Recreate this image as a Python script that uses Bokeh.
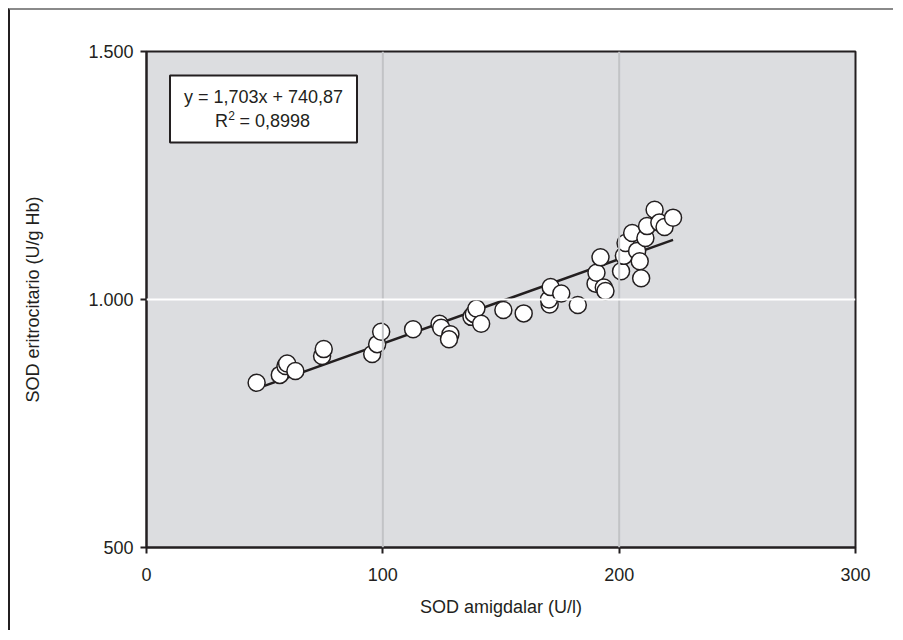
from bokeh.plotting import figure
from bokeh.models import Range1d, FixedTicker, Span
from bokeh.core.properties import value
from bokeh.embed import file_html
from bokeh.resources import INLINE

# data
sod_amigdalar = [46.6, 56.4, 58.8, 59.5, 63.0, 74.3, 75.0, 95.5, 97.6, 99.3,
                 112.8, 124.0, 124.7, 128.6, 128.0, 137.5, 138.5, 139.6, 141.6,
                 151.0, 159.6, 170.6, 170.3, 171.0, 175.5, 182.5, 190.0, 190.4,
                 192.1, 193.5, 194.2, 200.8, 202.0, 202.7, 205.5, 207.6, 208.7,
                 209.3, 211.1, 211.8, 215.0, 217.0, 219.2, 222.8]
sod_eritrocitario = [832, 848, 866, 871, 856, 886, 900, 890, 910, 935,
                     940, 951, 943, 930, 920, 965, 971, 982, 951,
                     979, 972, 990, 1000, 1025, 1012, 989, 1032, 1054,
                     1085, 1024, 1017, 1057, 1088, 1114, 1134, 1098, 1077,
                     1043, 1124, 1148, 1181, 1155, 1146, 1165]
slope = 1.703
intercept = 740.87
eq_text = "y = 1,703x + 740,87"
r2_base = "R"
r2_sup = "2"
r2_rest = "= 0,8998"
x_ticks = [0, 100, 200, 300]
y_ticks = [500, 1000, 1500]
y_tick_labels = {500: "500", 1000: "1.000", 1500: "1.500"}

FONT = "Liberation Sans"
TXT = "#231f20"
FS = "18px"

p = figure(width=885, height=622, output_backend="svg", toolbar_location=None,
           x_range=Range1d(0, 300), y_range=Range1d(500, 1500),
           min_border_left=136, min_border_right=40, min_border_top=41,
           min_border_bottom=85)
p.styles = {"margin-left": "8px", "margin-top": "8px",
            "border-top": "2px solid #8a8a8a", "border-left": "2px solid #231f20"}
p.background_fill_color = "#dcdde0"
p.border_fill_color = "white"
p.outline_line_color = TXT
p.outline_line_width = 2
p.xgrid.visible = False
p.ygrid.visible = False

for xv in [100, 200]:
    p.add_layout(Span(location=xv, dimension="height", line_color="#c2c3c6", line_width=2))
p.add_layout(Span(location=1000, dimension="width", line_color="white", line_width=2))

for ax in (p.xaxis[0], p.yaxis[0]):
    ax.axis_line_color = TXT
    ax.axis_line_width = 2
    ax.major_tick_line_color = TXT
    ax.major_tick_line_width = 2
    ax.major_tick_out = 6
    ax.major_tick_in = 0
    ax.minor_tick_line_color = None
    ax.major_label_text_font = FONT
    ax.major_label_text_font_size = FS
    ax.major_label_text_color = TXT
    ax.axis_label_text_font = FONT
    ax.axis_label_text_font_size = FS
    ax.axis_label_text_font_style = "normal"
    ax.axis_label_text_color = TXT

p.xaxis.ticker = FixedTicker(ticks=x_ticks)
p.yaxis.ticker = FixedTicker(ticks=y_ticks)
p.yaxis.major_label_overrides = y_tick_labels
p.xaxis.axis_label = "SOD amigdalar (U/l)"
p.yaxis.axis_label = "SOD eritrocitario (U/g Hb)"
p.xaxis.major_label_standoff = 14
p.xaxis.axis_label_standoff = 13
p.yaxis.major_label_standoff = 7
p.yaxis.axis_label_standoff = 42

# regression line
x0, x1 = min(sod_amigdalar), max(sod_amigdalar)
p.line([x0, x1], [slope * x0 + intercept, slope * x1 + intercept],
       line_color=TXT, line_width=2.5)

p.scatter(sod_amigdalar, sod_eritrocitario, size=17, marker="circle",
          fill_color="white", line_color=TXT, line_width=1.5)

# equation box
bx, by = 49.5, 1384
p.rect([bx], [by], width=187, height=67, width_units="screen", height_units="screen",
       fill_color="white", line_color=TXT, line_width=2)
p.text([bx], [by + 25], text=[eq_text], text_align="center", text_baseline="middle",
       text_font=value(FONT), text_font_size=FS, text_color=TXT)
p.text([bx], [by - 25], text=[r2_base], text_align="left", text_baseline="middle",
       x_offset=-48.5, text_font=value(FONT), text_font_size=FS, text_color=TXT)
p.text([bx], [by - 25], text=[r2_sup], text_align="left", text_baseline="middle",
       x_offset=-35.2, y_offset=-6, text_font=value(FONT), text_font_size="12px",
       text_color=TXT)
p.text([bx], [by - 25], text=[r2_rest], text_align="left", text_baseline="middle",
       x_offset=-24.0, text_font=value(FONT), text_font_size=FS, text_color=TXT)

open("out.html", "w").write(file_html(p, INLINE))
